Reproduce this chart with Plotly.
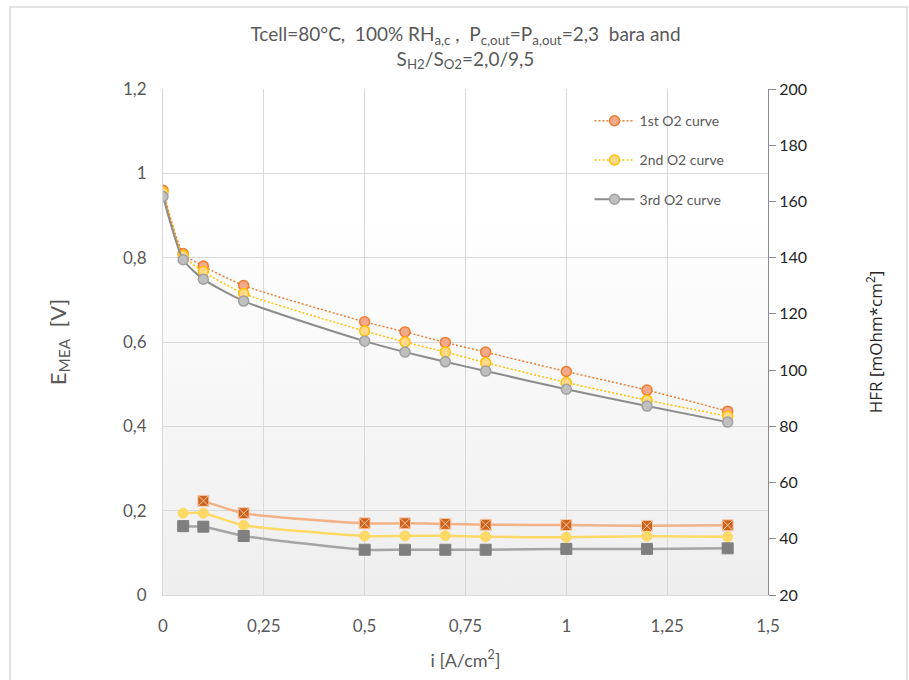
import base64
import plotly.graph_objects as go

# ---- data ----
i_pol = [0, 0.05, 0.1, 0.2, 0.5, 0.6, 0.7, 0.8, 1.0, 1.2, 1.4]
e_1st = [0.960, 0.810, 0.780, 0.734, 0.648, 0.624, 0.599, 0.576, 0.530, 0.486, 0.436]
e_2nd = [0.955, 0.805, 0.767, 0.715, 0.626, 0.600, 0.576, 0.551, 0.504, 0.462, 0.424]
e_3rd = [0.945, 0.795, 0.749, 0.697, 0.602, 0.576, 0.553, 0.531, 0.488, 0.448, 0.410]

i_hfr1 = [0.1, 0.2, 0.5, 0.6, 0.7, 0.8, 1.0, 1.2, 1.4]
hfr_1st = [53.5, 49.1, 45.5, 45.5, 45.3, 45.0, 44.9, 44.6, 44.8]
i_hfr = [0.05, 0.1, 0.2, 0.5, 0.6, 0.7, 0.8, 1.0, 1.2, 1.4]
hfr_2nd = [49.1, 49.1, 44.8, 41.0, 41.0, 41.1, 40.7, 40.5, 40.9, 40.7]
hfr_3rd = [44.5, 44.3, 41.0, 36.1, 36.1, 36.1, 36.1, 36.4, 36.4, 36.6]

names = ["1st O2 curve", "2nd O2 curve", "3rd O2 curve"]

FONT = "Lato, 'Open Sans', sans-serif"
DOT = "2px,2px"

fig = go.Figure()

# polarization curves
fig.add_trace(go.Scatter(x=i_pol, y=e_1st, name=names[0], legendgroup="a",
                         mode="lines+markers",
                         line=dict(color="#ED7D31", width=1.5, dash=DOT, shape="spline", smoothing=0.6),
                         marker=dict(symbol="circle", size=10, color="#F4A98A",
                                     line=dict(color="#ED7D31", width=1.5))))
fig.add_trace(go.Scatter(x=i_pol, y=e_2nd, name=names[1], legendgroup="b",
                         mode="lines+markers",
                         line=dict(color="#FFC000", width=1.5, dash=DOT, shape="spline", smoothing=0.6),
                         marker=dict(symbol="circle", size=10, color="#FFD98A",
                                     line=dict(color="#FFC000", width=1.5))))
fig.add_trace(go.Scatter(x=i_pol, y=e_3rd, name=names[2], legendgroup="c",
                         mode="lines+markers",
                         line=dict(color="#8C8C8C", width=2, shape="spline", smoothing=0.6),
                         marker=dict(symbol="circle", size=10, color="#BFBFBF",
                                     line=dict(color="#A0A0A0", width=1.5))))

# HFR curves (right axis)
fig.add_trace(go.Scatter(x=i_hfr1, y=hfr_1st, yaxis="y2", showlegend=False,
                         mode="lines+markers",
                         line=dict(color="#F4B183", width=2.5, shape="spline", smoothing=0.6),
                         marker=dict(symbol="square-x", size=11, color="#D0631B",
                                     line=dict(color="#F8CBAD", width=1))))
fig.add_trace(go.Scatter(x=i_hfr, y=hfr_2nd, yaxis="y2", showlegend=False,
                         mode="lines+markers",
                         line=dict(color="#FFD966", width=2.5, shape="spline", smoothing=0.6),
                         marker=dict(symbol="circle", size=10, color="#FFD966",
                                     line=dict(color="#FFD966", width=1))))
fig.add_trace(go.Scatter(x=i_hfr, y=hfr_3rd, yaxis="y2", showlegend=False,
                         mode="lines+markers",
                         line=dict(color="#A5A5A5", width=2.5, shape="spline", smoothing=0.6),
                         marker=dict(symbol="square", size=11, color="#7F7F7F",
                                     line=dict(color="#7F7F7F", width=1))))

# gradient background for plot area
svg = ('<svg xmlns="http://www.w3.org/2000/svg" width="100" height="100" preserveAspectRatio="none">'
       '<defs><linearGradient id="g" x1="0" y1="0" x2="0" y2="1">'
       '<stop offset="0" stop-color="#FFFFFF"/><stop offset="0.25" stop-color="#FFFFFF"/>'
       '<stop offset="1" stop-color="#EEEEEE"/></linearGradient></defs>'
       '<rect width="100" height="100" fill="url(#g)"/></svg>')
src = "data:image/svg+xml;base64," + base64.b64encode(svg.encode()).decode()

fig.update_layout(
    width=909, height=680,
    margin=dict(l=163, r=141, t=89, b=85),
    paper_bgcolor="white", plot_bgcolor="rgba(0,0,0,0)",
    separators=", ",
    font=dict(family=FONT, color="#595959", size=17),
    title=dict(text="Tcell=80°C,  100% RH<sub>a,c</sub> ,  P<sub>c,out</sub>=P<sub>a,out</sub>=2,3  bara and<br>"
                    "S<sub>H2</sub>/S<sub>O2</sub>=2,0/9,5",
               x=0.5, xref="paper", xanchor="center", y=0.94, yanchor="top",
               font=dict(family=FONT, size=19, color="#595959")),
    images=[dict(source=src, xref="paper", yref="paper", x=0, y=1, sizex=1, sizey=1,
                 sizing="stretch", layer="below", xanchor="left", yanchor="top")],
    xaxis=dict(range=[0, 1.5], dtick=0.25, tick0=0, showgrid=True, gridcolor="#D9D9D9",
               showline=True, linecolor="#D9D9D9", zeroline=False,
               ticks="outside", ticklen=16, tickcolor="rgba(0,0,0,0)",
               tickfont=dict(size=17, color="#595959"),
               title=dict(text="i [A/cm<sup>2</sup>]", font=dict(size=18, color="#595959"), standoff=18)),
    yaxis=dict(range=[0, 1.2], dtick=0.2, tick0=0, showgrid=True, gridcolor="#D9D9D9",
               showline=True, linecolor="#D9D9D9", zeroline=False,
               ticks="outside", ticklen=12, tickcolor="rgba(0,0,0,0)",
               tickfont=dict(size=17, color="#595959"),
               title=dict(text="E<sub>MEA</sub>  [V]", font=dict(size=22, color="#595959"), standoff=50)),
    yaxis2=dict(range=[20, 200], dtick=20, tick0=20, overlaying="y", side="right",
                showgrid=False, showline=True, linecolor="#8C8C8C", linewidth=1, zeroline=False,
                ticks="outside", ticklen=7, tickcolor="#8C8C8C",
                tickfont=dict(size=16, color="#262626"),
                title=dict(text="HFR [mOhm*cm<sup>2</sup>]",
                           font=dict(family="'Open Sans', sans-serif", size=17, color="#262626"),
                           standoff=64)),
    legend=dict(x=0.705, y=0.968, xanchor="left", yanchor="top", bgcolor="rgba(0,0,0,0)",
                font=dict(size=14, color="#595959"), tracegroupgap=18, itemwidth=40),
    shapes=[dict(type="rect", xref="paper", yref="paper", x0=-0.2529, x1=1.2298, y0=-0.2, y1=1.162,
                 line=dict(color="#D9D9D9", width=1.5), fillcolor="rgba(0,0,0,0)", layer="below")],
)

fig.write_html("out.html")
